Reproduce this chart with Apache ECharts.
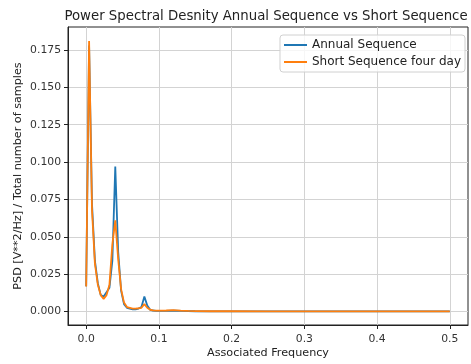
<!DOCTYPE html>
<html>
<head>
<meta charset="utf-8">
<script src="https://cdn.jsdelivr.net/npm/echarts@6/dist/echarts.min.js"></script>
<style>
  html, body { margin: 0; padding: 0; background: #fff; }
  #chart { width: 471px; height: 364px; }
</style>
</head>
<body>
<div id="chart"></div>
<script>
// frequency bins (cycles / sample)
const freq = [
  0, 0.004, 0.008, 0.012, 0.016, 0.020, 0.024, 0.028, 0.032, 0.036,
  0.040, 0.044, 0.048, 0.052, 0.056, 0.060, 0.064, 0.068, 0.072, 0.076,
  0.080, 0.084, 0.088, 0.092, 0.096, 0.100, 0.11, 0.12, 0.13, 0.14,
  0.15, 0.17, 0.20, 0.25, 0.30, 0.35, 0.40, 0.45, 0.50
];
const annualPsd = [
  0.017, 0.178, 0.072, 0.034, 0.019, 0.011, 0.010, 0.013, 0.016, 0.034,
  0.097, 0.040, 0.014, 0.005, 0.0025, 0.002, 0.0015, 0.0015, 0.002, 0.003,
  0.010, 0.004, 0.0012, 0.0007, 0.0005, 0.0005, 0.0005, 0.0006, 0.0004, 0.0003,
  0.0002, 0.00015, 0.0001, 0.0001, 0.0001, 0.0001, 0.0001, 0.0001, 0.0001
];
const shortPsd = [
  0.0167, 0.181, 0.068, 0.032, 0.018, 0.011, 0.0085, 0.011, 0.018, 0.045,
  0.061, 0.035, 0.015, 0.006, 0.003, 0.0025, 0.002, 0.002, 0.0022, 0.0025,
  0.005, 0.0025, 0.0012, 0.0008, 0.0006, 0.0006, 0.0007, 0.0009, 0.0006, 0.0004,
  0.0003, 0.0002, 0.0002, 0.00015, 0.0001, 0.0001, 0.0001, 0.0001, 0.0001
];
const xTicks = [0, 0.1, 0.2, 0.3, 0.4, 0.5];
const yTicks = [0, 0.025, 0.05, 0.075, 0.1, 0.125, 0.15, 0.175];

const font = "DejaVu Sans";
const chart = echarts.init(document.getElementById("chart"));

function axisCommon(ticks, fmt, margin) {
  return {
    type: "value",
    axisLine: { show: true, onZero: false, lineStyle: { color: "#222", width: 1 } },
    axisTick: { show: true, inside: false, length: 4, customValues: ticks, lineStyle: { color: "#222" } },
    axisLabel: { customValues: ticks, color: "#333", fontFamily: font, fontSize: 10.8, margin: margin, formatter: fmt },
    splitLine: { show: true, lineStyle: { color: "#d3d3d3", width: 1 } },
  };
}

const option = {
  animation: false,
  color: ["#1f77b4", "#ff7f0e"],
  title: {
    text: "Power Spectral Desnity Annual Sequence vs Short Sequence",
    left: 261,
    textAlign: "center",
    top: 5,
    textStyle: { fontFamily: font, fontSize: 13.3, fontWeight: "normal", color: "#222" },
  },
  grid: {
    left: 68, right: 3, top: 27, bottom: 39,
    outerBoundsMode: "none",
    containLabel: false,
    show: true, borderColor: "#222", borderWidth: 1,
  },
  legend: {
    orient: "vertical",
    right: 6,
    top: 35,
    icon: "rect",
    itemWidth: 23,
    itemHeight: 2,
    itemGap: 5,
    padding: [4, 4, 4, 4],
    borderColor: "#d0d0d0",
    borderWidth: 1,
    borderRadius: 3,
    backgroundColor: "rgba(255,255,255,0.8)",
    textStyle: { fontFamily: font, fontSize: 12, color: "#222" },
    data: ["Annual Sequence", "Short Sequence four day"],
  },
  xAxis: Object.assign(axisCommon(xTicks, v => v.toFixed(1), 9), {
    min: -0.025, max: 0.525,
    name: "Associated Frequency",
    nameLocation: "middle",
    nameGap: 23,
    nameMoveOverlap: false,
    nameTextStyle: { fontFamily: font, fontSize: 11.2, color: "#222" },
  }),
  yAxis: Object.assign(axisCommon(yTicks, v => v.toFixed(3), 7), {
    min: -0.009, max: 0.1904,
    name: "PSD [V**2/Hz] / Total number of samples",
    nameLocation: "middle",
    nameGap: 44,
    nameMoveOverlap: false,
    nameTextStyle: { fontFamily: font, fontSize: 11.2, color: "#222" },
  }),
  series: [
    {
      name: "Annual Sequence",
      type: "line",
      symbol: "none",
      lineStyle: { width: 1.8 },
      data: freq.map((f, i) => [f, annualPsd[i]]),
    },
    {
      name: "Short Sequence four day",
      type: "line",
      symbol: "none",
      lineStyle: { width: 1.8 },
      data: freq.map((f, i) => [f, shortPsd[i]]),
    },
  ],
};
chart.setOption(option);
</script>
</body>
</html>
